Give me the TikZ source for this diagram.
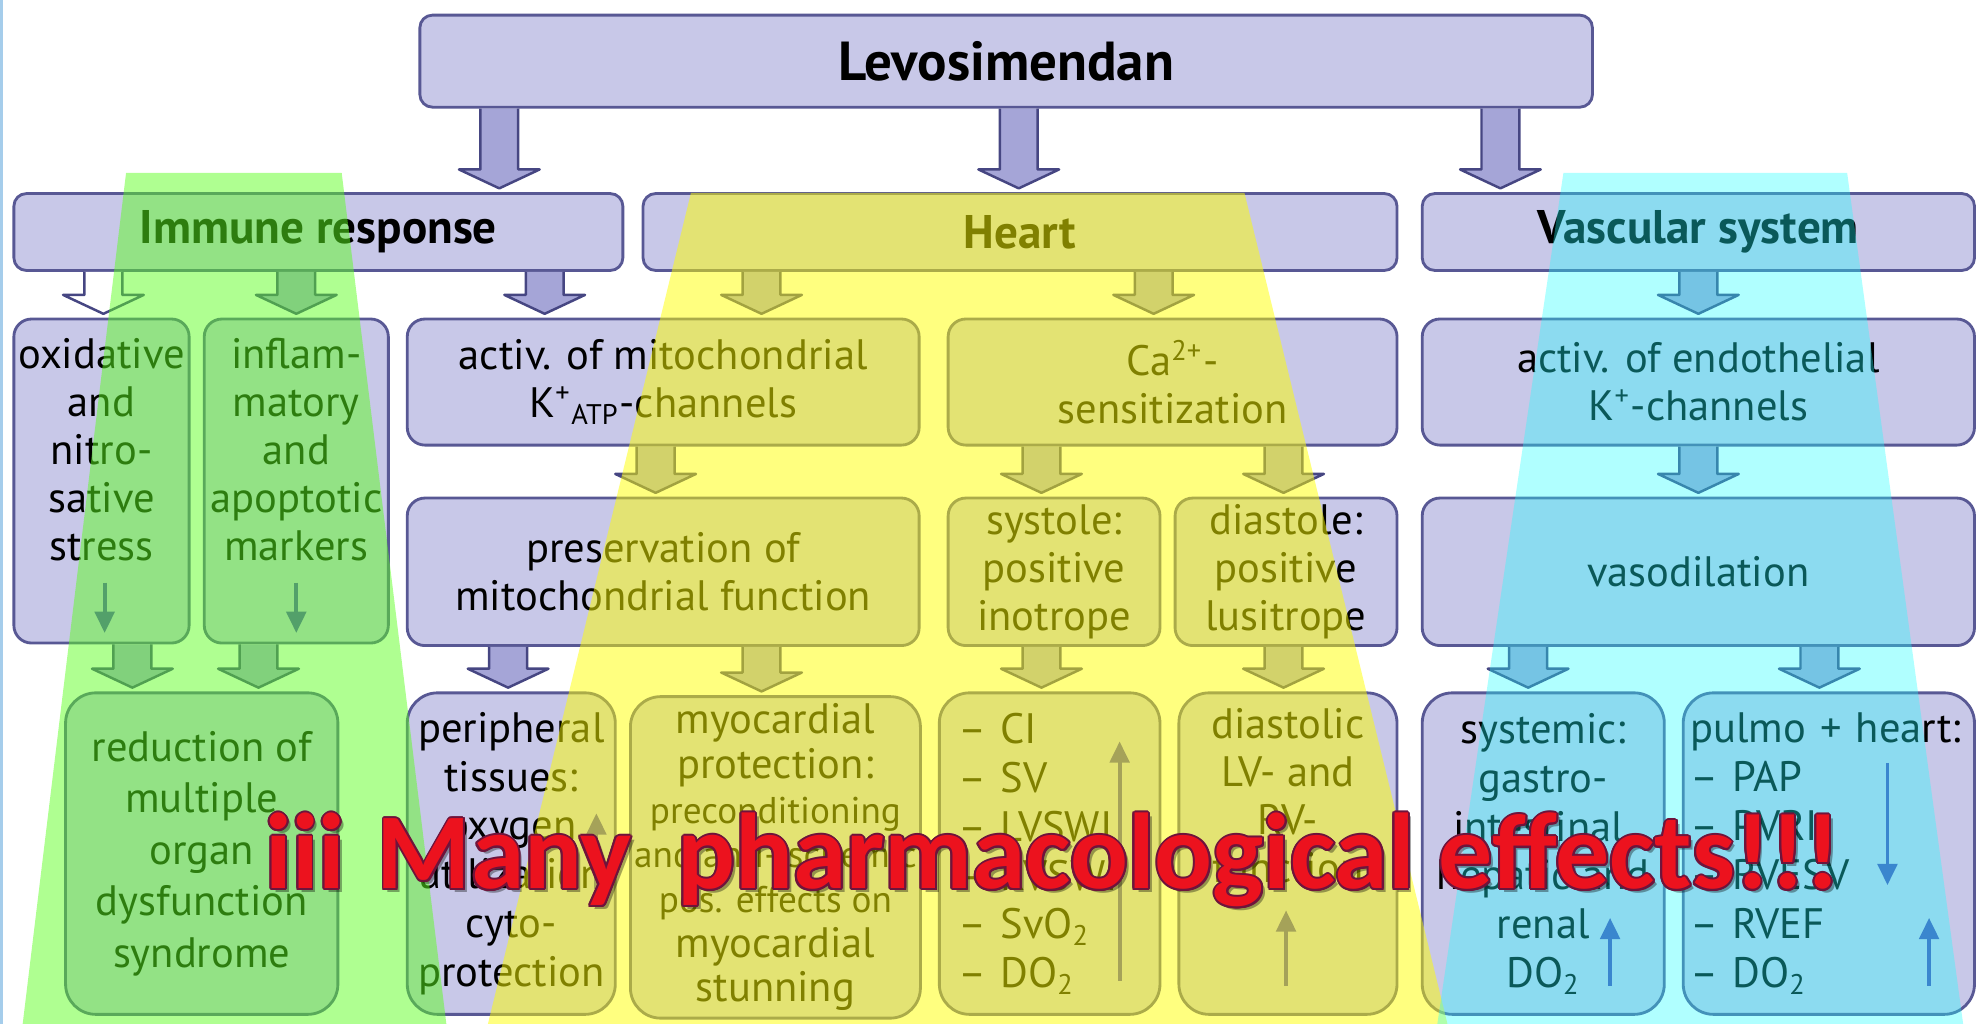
\documentclass[tikz,border=0pt]{standalone}
\usepackage{fontspec}
\setmainfont{PT Sans}
\newfontfamily\redfont{Carlito}
\usepackage[copies]{contour}
\usetikzlibrary{arrows.meta,positioning,calc}

\definecolor{boxfill}{RGB}{200,200,232}
\definecolor{boxline}{RGB}{88,88,148}
\definecolor{arrfill}{RGB}{165,165,215}
\definecolor{arrline}{RGB}{70,70,130}
\definecolor{smallarr}{RGB}{75,70,180}
\definecolor{hlgreen}{RGB}{92,255,31}
\definecolor{hlyellow}{RGB}{255,255,0}
\definecolor{hlcyan}{RGB}{29,255,255}
\definecolor{bigred}{RGB}{236,18,30}
\definecolor{redline}{RGB}{110,20,60}
\definecolor{edgeblue}{RGB}{165,205,235}

\newlength\un
\setlength\un{0.0125cm}
\contourlength{0.55pt}

% 粗箭头: [样式] {x} {起点} {终点}
\newcommand\fatarr[4][]{%
  \path (#2,0 |- #3.south) coordinate (fa) (#2,0 |- #4.north) coordinate (fb);
  \filldraw[fatarrow,#1] ($(fa)+(-15,0)$) -- ($(fb)+(-15,-18)$) -- ($(fb)+(-32,-18)$)
    -- ($(fb)+(0,-3)$) -- ($(fb)+(32,-18)$) -- ($(fb)+(15,-18)$) -- ($(fa)+(15,0)$);
}

\begin{document}
\begin{tikzpicture}[
			x=\un, y=-\un,
			every node/.style={inner sep=0pt},
			process/.style={rectangle, rounded corners=14\un, draw=boxline, line width=0.8pt, fill=boxfill, align=center, font=\fontsize{12}{13.5}\selectfont},
			system/.style={process, minimum height=61\un, rounded corners=10\un, font=\bfseries\fontsize{13.3}{16}\selectfont},
			effect/.style={process, minimum height=255\un, rounded corners=24\un, font=\fontsize{12}{13.8}\selectfont},
			txt/.style={align=center, font=\fontsize{12}{13.5}\selectfont},
			fatarrow/.style={fill=arrfill, draw=arrline, line width=0.7pt, line join=round},
			updown/.style={draw=smallarr, line width=1.1pt, -{Triangle[length=6pt,width=5.5pt]}},
			slogan/.style={anchor=base west, font=\redfont\bfseries\fontsize{30.4}{36}\selectfont}
			]
			\useasboundingbox (0,0) rectangle (1568,812);
			\draw[edgeblue, line width=1pt] (1,0) -- (1,812);
			
			% 节点定义
			\node (levo) [system, minimum width=930\un, minimum height=73\un, font=\bfseries\fontsize{15.5}{18}\selectfont] at (798,48.5) {Levosimendan};
			\node (imm) [system, minimum width=483\un] at (252.5,184) {Immune response};
			\node (heart) [system, minimum width=598\un] at (809,184) {Heart};
			\node (vasc) [system, minimum width=438\un] at (1347,184) {Vascular system};
			
			\node (oxi) [process, minimum width=139\un, minimum height=257\un] at (80.5,381.5) {};
			\node (infl) [process, minimum width=146\un, minimum height=257\un] at (235,381.5) {};
			\node (mito) [process, minimum width=406\un, minimum height=100\un] at (526,303) {activ. of mitochondrial\\K\textsuperscript{+}\textsubscript{ATP}-channels};
			\node (ca) [process, minimum width=356\un, minimum height=100\un] at (930,303) {Ca\textsuperscript{2+}-\\sensitization};
			\node (endo) [process, minimum width=438\un, minimum height=100\un] at (1347,303) {activ. of endothelial\\K\textsuperscript{+}-channels};
			
			\node (pres) [process, minimum width=406\un, minimum height=117\un] at (526,453.5) {preservation of\\mitochondrial function};
			\node (sys) [process, minimum width=168\un, minimum height=117\un] at (836,453.5) {systole:\\positive\\inotrope};
			\node (dia) [process, minimum width=176\un, minimum height=117\un] at (1020,453.5) {diastole:\\positive\\lusitrope};
			\node (vaso) [process, minimum width=438\un, minimum height=117\un] at (1347,453.5) {vasodilation};
			
			\node (red) [effect, minimum width=216\un, font=\fontsize{12}{14.5}\selectfont] at (160,677) {reduction of\\multiple\\organ\\dysfunction\\syndrome};
			\node (peri) [effect, minimum width=165\un] at (405.5,677) {peripheral\\tissues:\\oxygen\\utilization\\cyto-\\protection};
			\node (myo) [effect, minimum width=230\un, font=\fontsize{12}{12.6}\selectfont] at (615,680) {myocardial\\protection:\\{\fontsize{10.5}{12}\selectfont preconditioning}\\{\fontsize{10.5}{12}\selectfont and anti-ischemic}\\{\fontsize{10.5}{12}\selectfont pos. effects on}\\myocardial\\stunning};
			\node (ci) [effect, minimum width=175\un, text width=145\un, align=left] at (832.5,677) {-- CI\\-- SV\\-- LVSWI\\-- RVSWI\\-- SvO\textsubscript{2}\\-- DO\textsubscript{2}};
			\node (dlv) [effect, minimum width=173\un] at (1021.5,677) {};
			\node (syst) [effect, minimum width=192\un] at (1224,677) {systemic:\\gastro-\\intestinal,\\hepatic and\\renal\\DO\textsubscript{2}};
			\node (pulm) [effect, minimum width=231\un, text width=220\un, align=left] at (1450.5,677) {pulmo + heart:\\-- PAP\\-- PVRI\\-- RVESV\\-- RVEF\\-- DO\textsubscript{2}};
			
			\node (oxit) [txt, below=16\un of oxi.north] {oxidative\\and\\nitro-\\sative\\stress};
			\node (inflt) [txt, below=16\un of infl.north] {inflam-\\matory\\and\\apoptotic\\markers};
			\node (dlvt) [txt, below=13\un of dlv.north] {diastolic\\LV- and\\RV-\\function};
			
			% 边缘箭头
			\fatarr{396}{levo}{imm}
			\fatarr{808}{levo}{heart}
			\fatarr{1190}{levo}{vasc}
			\fatarr[fill=white]{82}{imm}{oxi}
			\fatarr{235}{imm}{infl}
			\fatarr{432}{imm}{mito}
			\fatarr{604}{heart}{mito}
			\fatarr{915}{heart}{ca}
			\fatarr{1347}{vasc}{endo}
			\fatarr{520}{mito}{pres}
			\fatarr{826}{ca}{sys}
			\fatarr{1018}{ca}{dia}
			\fatarr{1347}{endo}{vaso}
			\fatarr{105}{oxi}{red}
			\fatarr{205}{infl}{red}
			\fatarr{403}{pres}{peri}
			\fatarr{604}{pres}{myo}
			\fatarr{826}{sys}{ci}
			\fatarr{1018}{dia}{dlv}
			\fatarr{1212}{vaso}{syst}
			\fatarr{1443}{vaso}{pulm}
			
			% 小箭头
			\draw[updown] (83,462) -- (83,502);
			\draw[updown] (235,462) -- (235,502);
			\draw[updown] (473,705) -- (473,645);
			\draw[updown] (888,778) -- (888,588);
			\draw[updown] (1020,782) -- (1020,722);
			\draw[updown] (1277,782) -- (1277,728);
			\draw[updown] (1497,605) -- (1497,702);
			\draw[updown] (1530,782) -- (1530,728);
			
			% 高亮
			\fill[hlgreen, fill opacity=0.49] (100,137) -- (271,137) -- (354,812) -- (18,812) -- cycle;
			\fill[hlyellow, fill opacity=0.5] (548,153) -- (987,153) -- (1148,812) -- (387,812) -- cycle;
			\fill[hlcyan, fill opacity=0.35] (1240,137) -- (1465,137) -- (1557,812) -- (1140,812) -- cycle;
			
			% 标题
			\node (shade) [slogan, text=black, opacity=0.35] at (213,708) {iii\hspace{9pt}Many\hspace{13pt}pharmacological effects!!!};
			\node (many) [slogan, text=bigred] at (210,705) {\contour{redline}{iii\hspace{9pt}Many\hspace{13pt}pharmacological effects!!!}};
			
		\end{tikzpicture}
\end{document}
